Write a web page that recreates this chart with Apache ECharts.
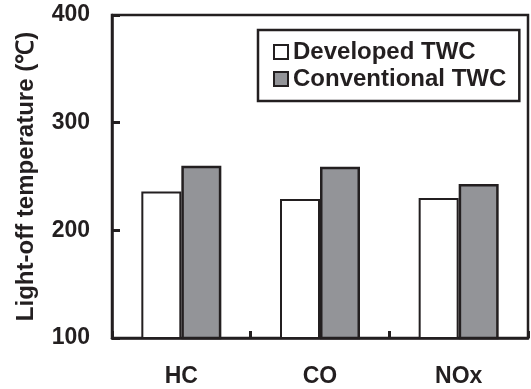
<!DOCTYPE html>
<html>

<head>
  <meta charset="utf-8" />
  <script src="https://cdn.jsdelivr.net/npm/echarts@6/dist/echarts.min.js"></script>
  <style>
    html, body { margin: 0; padding: 0; background: #fff; }
    #chart { width: 531px; height: 389px; }
  </style>
</head>

<body>
  <div id="chart"></div>
  <script type="text/javascript">
    const categories = ["HC", "CO", "NOx"];
    const developed = [236, 229, 230];
    const conventional = [260, 259, 243];
    const yTicks = [100, 200, 300, 400];

    const ink = "#231f20";
    const font = "'Liberation Sans', Arial, sans-serif";

    const chart = echarts.init(document.getElementById("chart"));

    var option = {
      animation: false,
      textStyle: { fontFamily: font },
      grid: {
        left: 112,
        right: 3,
        top: 15,
        bottom: 51,
        show: true,
        borderColor: ink,
        borderWidth: 2.5,
        backgroundColor: "transparent"
      },
      legend: {
        orient: "vertical",
        left: 258,
        top: 30,
        padding: [10, 13, 10, 15],
        itemGap: 3,
        itemWidth: 14,
        itemHeight: 14,
        icon: "rect",
        borderColor: ink,
        borderWidth: 2.5,
        textStyle: {
          fontFamily: font,
          fontWeight: "bold",
          fontSize: 24,
          color: ink
        },
        data: ["Developed TWC", "Conventional TWC"]
      },
      xAxis: {
        type: "category",
        data: categories,
        axisLine: { show: true, lineStyle: { color: ink, width: 2.5 } },
        axisTick: { show: true, inside: true, length: 7, lineStyle: { color: ink, width: 3 } },
        axisLabel: {
          margin: 27,
          fontFamily: font,
          fontWeight: "bold",
          fontSize: 23,
          color: ink
        },
        splitLine: { show: false }
      },
      yAxis: {
        type: "value",
        min: yTicks[0],
        max: yTicks[yTicks.length - 1],
        interval: 100,
        name: "Light-off temperature (℃)",
        nameLocation: "middle",
        nameGap: 74,
        nameTextStyle: {
          fontFamily: font,
          fontWeight: "bold",
          fontSize: 24,
          color: ink
        },
        axisLine: { show: true, lineStyle: { color: ink, width: 2.5 } },
        axisTick: { show: true, inside: true, length: 8, lineStyle: { color: ink, width: 3 } },
        axisLabel: {
          margin: 22,
          fontFamily: font,
          fontWeight: "bold",
          fontSize: 23,
          color: ink
        },
        splitLine: { show: false }
      },
      series: [
        {
          name: "Developed TWC",
          type: "bar",
          data: developed,
          barWidth: 40,
          barGap: "0%",
          itemStyle: { color: "#ffffff", borderColor: ink, borderWidth: 2 }
        },
        {
          name: "Conventional TWC",
          type: "bar",
          data: conventional,
          barWidth: 40,
          itemStyle: { color: "#939498", borderColor: ink, borderWidth: 2.5 }
        }
      ]
    };

    chart.setOption(option);
  </script>
</body>

</html>
